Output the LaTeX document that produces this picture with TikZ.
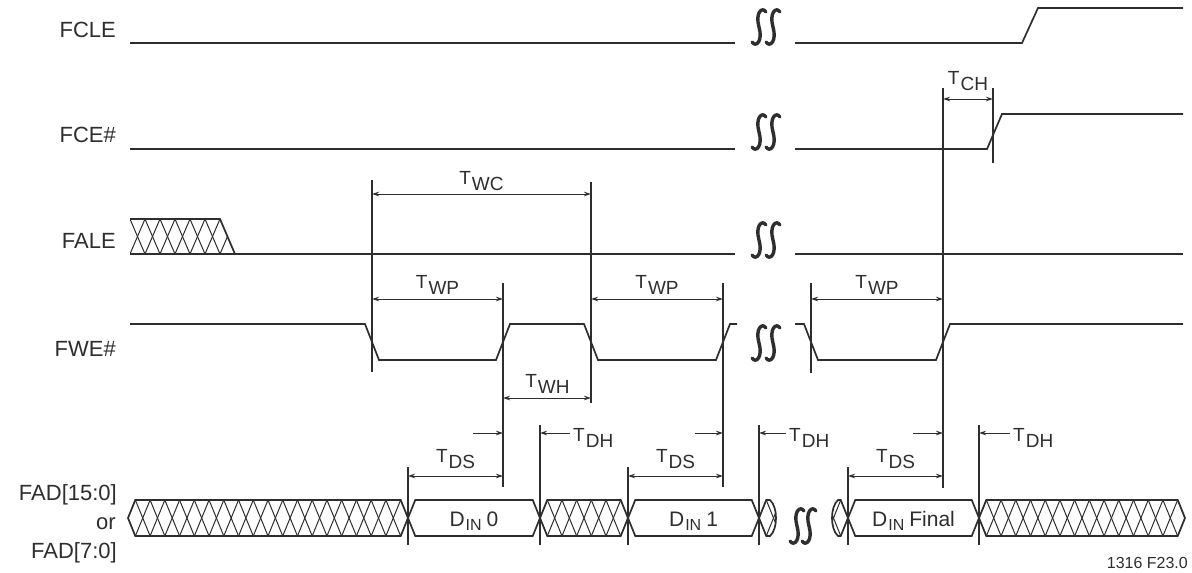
\documentclass[tikz,border=0pt]{standalone}
\usepackage{fontspec}
\setmainfont{Liberation Sans}
\usetikzlibrary{arrows.meta,positioning,calc}
\definecolor{ink}{HTML}{2E2E2E}

\newcommand{\tname}[2]{#1\kern1pt\raisebox{-6pt}{#2}}
\newcommand{\dname}[1]{D\kern1pt\raisebox{-4pt}{\fontsize{16}{16}\selectfont IN}\kern5pt #1}
% hatched bus between two crossings (y 500..536)
\newcommand{\busx}[2]{%
  \pgfmathtruncatemacro{\hn}{max(1,round((#2-#1)/14.5))}
  \pgfmathsetmacro{\hp}{(#2-#1)/\hn}
  \begin{scope}
    \clip (#1,518) -- (#1+7.25,500) -- (#2-7.25,500) -- (#2,518) -- (#2-7.25,536) -- (#1+7.25,536) -- cycle;
    \foreach \k in {0,...,\hn}{
      \draw[hatch] (#1-\hp/2+\k*\hp,500) -- ++(\hp,36);
      \draw[hatch] (#1-\hp/2+\k*\hp,536) -- ++(\hp,-36);
    }
  \end{scope}
  \draw[sig] (#1,518) -- (#1+7.25,500) -- (#2-7.25,500) -- (#2,518) -- (#2-7.25,536) -- (#1+7.25,536) -- cycle;}
% valid data on the bus
\newcommand{\busd}[4]{%
  \draw[sig] (#2,518) -- (#2+7.25,500) -- (#3-7.25,500) -- (#3,518) -- (#3-7.25,536) -- (#2+7.25,536) -- cycle;
  \node[dlab] (#1) at ({(#2+#3)/2},526) {#4};}
% break mark
\newcommand{\sbrk}[3]{%
  \foreach \sx in {-#3,#3}{
    \draw[brk] (#1+\sx+7,#2-15) .. controls (#1+\sx+3,#2-21) and (#1+\sx-4,#2-14) .. (#1+\sx,#2)
      .. controls (#1+\sx+4,#2+14) and (#1+\sx-3,#2+21) .. (#1+\sx-7,#2+15);
  }}

\begin{document}
\begin{tikzpicture}[x=1pt,y=-1pt,>={Stealth[length=7pt,width=4.5pt]},
  sig/.style={draw=ink,line width=1.7pt},
  tick/.style={draw=ink,line width=1.2pt},
  dim/.style={draw=ink,line width=1pt,<->},
  dimone/.style={draw=ink,line width=1pt,->},
  hatch/.style={draw=ink,line width=1pt},
  brk/.style={draw=ink,line width=3.4pt,line cap=round},
  sname/.style={text=ink,font=\fontsize{22}{24}\selectfont,anchor=base east,inner sep=0pt},
  tlab/.style={text=ink,font=\fontsize{19}{20}\selectfont,anchor=base,inner sep=0pt},
  dlab/.style={text=ink,font=\fontsize{21}{22}\selectfont,anchor=base,inner sep=0pt}]
\useasboundingbox (0,0) rectangle (1192,573);

% signal names
\node[sname] (fcle) at (116,37) {FCLE};
\node[sname] (fce) at (116,142) {FCE\#};
\node[sname] (fale) at (116,248) {FALE};
\node[sname] (fwe) at (116,356) {FWE\#};
\node[sname] (fad) at (117,500) {FAD[15:0]};
\node[sname] (fador) at (116,529) {or};
\node[sname] (fadb) at (117,558) {FAD[7:0]};
\node[text=ink,font=\fontsize{16}{18}\selectfont,anchor=base east,inner sep=0pt] (fig) at (1188,568) {1316 F23.0};

% FCLE and FCE#
\draw[sig] (130,43) -- (735,43);
\draw[sig] (795,43) -- (1022,43) -- (1038,8) -- (1183,8);
\draw[sig] (130,149) -- (735,149);
\draw[sig] (795,149) -- (987,149) -- (1002,114) -- (1183,114);

% FALE
\begin{scope}
  \clip (130,219) -- (220,219) -- (235,254) -- (130,254) -- cycle;
  \foreach \k in {0,...,6}{
    \draw[hatch] (130+\k*15,219) -- ++(15,35);
    \draw[hatch] (130+\k*15,254) -- ++(15,-35);
  }
\end{scope}
\draw[sig] (130,219) -- (220,219) -- (235,254);
\draw[sig] (130,254) -- (735,254);
\draw[sig] (795,254) -- (1183,254);

% FWE#
\draw[sig] (130,324) -- (365,324) -- (379,360) -- (496,360) -- (510,324) -- (584,324) -- (598,360)
  -- (716,360) -- (730,324) -- (737,324);
\draw[sig] (795,324) -- (804,324) -- (818,360) -- (936,360) -- (950,324) -- (1183,324);

% FAD bus
\busx{128}{408}
\busd{din0}{408}{540}{\dname{0}}
\busx{540}{628}
\busd{din1}{628}{759}{\dname{1}}
\begin{scope}
  \clip (759,518) -- (766.25,500) -- (770,500) .. controls (778,507) and (778,529) .. (770,536) -- (766.25,536) -- cycle;
  \foreach \k in {0,1,2}{
    \draw[hatch] (751.75+\k*14.5,500) -- ++(14.5,36);
    \draw[hatch] (751.75+\k*14.5,536) -- ++(14.5,-36);
  }
\end{scope}
\draw[sig] (759,518) -- (766.25,500) -- (770,500) .. controls (778,507) and (778,529) .. (770,536) -- (766.25,536) -- cycle;
\begin{scope}
  \clip (848,518) -- (840.75,500) -- (838,500) .. controls (830,507) and (830,529) .. (838,536) -- (840.75,536) -- cycle;
  \foreach \k in {0,1,2}{
    \draw[hatch] (826.25+\k*14.5,500) -- ++(14.5,36);
    \draw[hatch] (826.25+\k*14.5,536) -- ++(14.5,-36);
  }
\end{scope}
\draw[sig] (848,518) -- (840.75,500) -- (838,500) .. controls (830,507) and (830,529) .. (838,536) -- (840.75,536) -- cycle;
\busd{dinf}{848}{979}{\dname{Final}}
\busx{979}{1185}

% breaks
\sbrk{766}{27}{7}
\sbrk{766}{132}{7}
\sbrk{766}{240}{7}
\sbrk{766}{343}{7}
\sbrk{803}{526}{6}

% timing reference lines
\foreach \n/\x in {wa/372,wb/503,wc/591,wd/723,we/811,wf/943,wg/993,da/408,db/540,dc/628,dd/759,de/848,df/979}
  \coordinate (\n) at (\x,0);
\foreach \n/\y in {rowCH/99,rowWC/194,rowWP/299,rowWH/398,rowDH/433,rowDS/476}
  \coordinate (\n) at (0,\y);
\foreach \x/\ya/\yb in {372/180/372,503/283/487,591/182/403,723/283/487,811/283/373,943/88/488,993/88/163,
  408/467/545,540/425/545,628/467/545,759/425/545,848/467/545,979/425/545}
  \draw[tick] (\x,\ya) -- (\x,\yb);

% timing parameters
\draw[dim] (wa |- rowWC) -- (wc |- rowWC);
\node[tlab] (twc) at (481.5,184) {\tname{T}{WC}};
\draw[dim] (wa |- rowWP) -- (wb |- rowWP);
\node[tlab] (twp1) at (437.5,288) {\tname{T}{WP}};
\draw[dim] (wc |- rowWP) -- (wd |- rowWP);
\node[tlab] (twp2) at (657,288) {\tname{T}{WP}};
\draw[dim] (we |- rowWP) -- (wf |- rowWP);
\node[tlab] (twp3) at (877,288) {\tname{T}{WP}};
\draw[dim] (wb |- rowWH) -- (wc |- rowWH);
\node[tlab] (twh) at (547.5,387) {\tname{T}{WH}};
\draw[dim] (wf |- rowCH) -- (wg |- rowCH);
\node[tlab] (tch) at (968,84) {\tname{T}{CH}};

\draw[dim] (da |- rowDS) -- (wb |- rowDS);
\node[tlab] (tds1) at (455.5,462) {\tname{T}{DS}};
\draw[dim] (dc |- rowDS) -- (wd |- rowDS);
\node[tlab] (tds2) at (675.5,462) {\tname{T}{DS}};
\draw[dim] (de |- rowDS) -- (wf |- rowDS);
\node[tlab] (tds3) at (895.5,462) {\tname{T}{DS}};
\draw[dimone] ($(wb |- rowDH)+(-30,0)$) -- (wb |- rowDH);
\draw[dimone] ($(wd |- rowDH)+(-28,0)$) -- (wd |- rowDH);
\draw[dimone] ($(wf |- rowDH)+(-30,0)$) -- (wf |- rowDH);

\draw[dimone] ($(db |- rowDH)+(30,0)$) -- (db |- rowDH);
\node[tlab,anchor=base west] (tdh1) at ($(db |- rowDH)+(33,8)$) {\tname{T}{DH}};
\draw[dimone] ($(dd |- rowDH)+(27,0)$) -- (dd |- rowDH);
\node[tlab,anchor=base west] (tdh2) at ($(dd |- rowDH)+(30,8)$) {\tname{T}{DH}};
\draw[dimone] ($(df |- rowDH)+(31,0)$) -- (df |- rowDH);
\node[tlab,anchor=base west] (tdh3) at ($(df |- rowDH)+(34,8)$) {\tname{T}{DH}};
\end{tikzpicture}
\end{document}
